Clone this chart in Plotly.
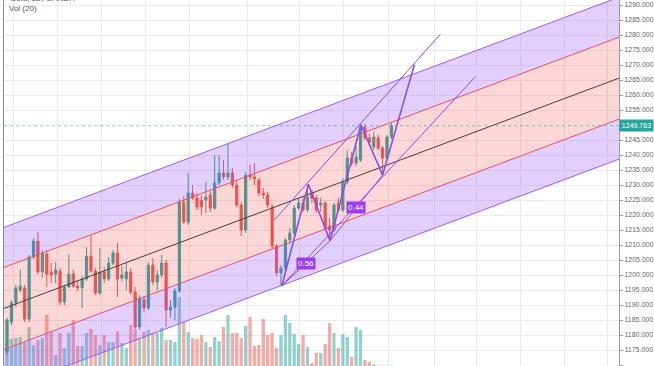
import plotly.graph_objects as go

# ---------------- data ----------------
opens = [1174.3, 1184.3, 1190.7, 1195.0, 1195.7, 1185.3, 1206.0, 1211.3, 1201.0, 1207.0,
         1201.0, 1200.3, 1201.3, 1191.0, 1196.0, 1200.3, 1196.3, 1195.7, 1198.7, 1206.3,
         1201.3, 1194.0, 1201.0, 1198.7, 1204.0, 1207.3, 1199.0, 1198.7, 1201.0, 1194.3,
         1182.7, 1191.7, 1189.0, 1203.3, 1197.7, 1200.0, 1204.0, 1188.3, 1189.3, 1194.7,
         1224.3, 1217.7, 1227.3, 1225.7, 1225.0, 1225.0, 1226.7, 1222.3, 1230.7, 1234.0,
         1232.7, 1234.0, 1230.0, 1223.3, 1215.0, 1233.3, 1232.7, 1231.7, 1227.3, 1226.7,
         1222.7, 1209.7, 1200.7, 1202.3, 1211.7, 1214.0, 1222.3, 1224.0, 1221.7, 1227.7,
         1225.7, 1223.3, 1224.0, 1216.3, 1215.0, 1224.0, 1221.7, 1231.0, 1239.0, 1237.3,
         1238.3, 1249.3, 1245.7, 1242.7, 1245.7, 1242.3, 1239.0, 1246.0]
highs = [1185.7, 1191.7, 1196.7, 1201.7, 1196.7, 1206.7, 1212.3, 1214.3, 1208.3, 1208.3,
         1204.0, 1204.3, 1202.3, 1196.7, 1207.0, 1201.7, 1198.3, 1199.7, 1209.3, 1213.3,
         1202.3, 1209.0, 1202.7, 1206.0, 1208.3, 1210.7, 1203.0, 1204.0, 1202.3, 1196.0,
         1193.3, 1193.0, 1204.3, 1205.7, 1201.7, 1206.7, 1205.0, 1191.7, 1195.7, 1225.3,
         1226.3, 1234.0, 1230.0, 1227.3, 1226.7, 1231.0, 1228.3, 1240.0, 1240.0, 1238.3,
         1244.0, 1235.7, 1231.7, 1224.3, 1234.3, 1236.7, 1237.3, 1232.3, 1229.0, 1227.7,
         1223.7, 1210.3, 1203.3, 1212.3, 1215.7, 1223.3, 1225.7, 1226.3, 1230.2, 1228.3,
         1226.7, 1225.7, 1224.7, 1219.0, 1224.0, 1225.7, 1232.3, 1241.7, 1241.0, 1243.0,
         1250.1, 1250.3, 1247.0, 1247.7, 1246.7, 1243.0, 1246.7, 1250.7]
lows = [1173.3, 1183.3, 1189.3, 1194.3, 1184.3, 1184.3, 1205.3, 1200.3, 1199.0, 1196.0,
        1197.3, 1197.3, 1190.0, 1190.0, 1195.7, 1195.7, 1194.7, 1189.0, 1198.0, 1200.7,
        1193.3, 1193.3, 1197.3, 1198.0, 1203.3, 1192.7, 1197.7, 1195.0, 1193.3, 1181.7,
        1181.7, 1187.7, 1188.3, 1196.7, 1195.0, 1199.0, 1182.7, 1185.7, 1185.0, 1194.0,
        1217.0, 1216.7, 1225.0, 1221.7, 1220.0, 1220.7, 1221.0, 1221.7, 1230.0, 1231.7,
        1231.7, 1229.0, 1222.7, 1213.0, 1214.0, 1231.7, 1230.0, 1226.3, 1225.3, 1222.3,
        1209.0, 1199.7, 1196.4, 1201.0, 1210.3, 1213.0, 1221.7, 1221.0, 1221.0, 1224.0,
        1220.7, 1221.0, 1215.0, 1211.4, 1214.3, 1221.0, 1221.0, 1230.3, 1236.3, 1236.3,
        1237.7, 1245.0, 1243.3, 1241.7, 1241.7, 1233.7, 1238.3, 1245.3]
closes = [1185.0, 1190.7, 1195.7, 1196.3, 1185.3, 1206.0, 1211.3, 1201.0, 1207.3, 1200.3,
          1200.0, 1201.7, 1191.0, 1196.0, 1200.3, 1196.3, 1195.7, 1198.7, 1206.3, 1201.3,
          1194.0, 1201.0, 1198.7, 1204.0, 1207.3, 1198.7, 1200.0, 1201.0, 1194.3, 1182.7,
          1192.3, 1189.0, 1203.3, 1197.7, 1200.0, 1204.0, 1188.3, 1189.3, 1194.7, 1224.3,
          1217.7, 1227.3, 1225.7, 1222.7, 1222.7, 1226.0, 1222.3, 1230.7, 1234.0, 1232.7,
          1234.0, 1230.0, 1223.3, 1215.0, 1233.3, 1232.7, 1232.0, 1227.3, 1226.7, 1223.3,
          1209.7, 1200.7, 1202.3, 1211.7, 1214.0, 1222.3, 1224.0, 1221.7, 1226.0, 1225.7,
          1221.7, 1224.0, 1215.7, 1215.0, 1223.3, 1221.7, 1231.0, 1239.0, 1237.3, 1239.3,
          1249.3, 1245.7, 1244.3, 1246.0, 1242.3, 1239.0, 1246.0, 1249.763]
volumes = [52, 54, 56, 58, 48, 78, 42, 52, 56, 102,
           68, 22, 66, 36, 66, 92, 40, 40, 66, 74,
           62, 42, 62, 48, 48, 70, 46, 36, 82, 72,
           56, 68, 72, 66, 66, 76, 52, 52, 48, 138,
           88, 68, 56, 54, 62, 48, 38, 58, 50, 78,
           102, 66, 66, 56, 80, 98, 40, 42, 94, 62,
           66, 36, 62, 102, 86, 64, 44, 62, 38, 6,
           26, 26, 44, 86, 66, 36, 64, 58, 18, 78,
           72, 12, 8, 3, 1, 1, 1, 1]
bars = list(range(len(closes)))

# regression channel (centre at first bar, slope per bar, deviations)
channel_start = 1189.25
channel_slope = 0.5514
inner_dev = 13.67
outer_dev = 27.0

# harmonic pattern X, A, B, C, D and projection
pattern_x = [62.2, 68.2, 73.1, 80.1, 85.0, 92.2]
pattern_y = [1196.4, 1230.2, 1211.4, 1250.1, 1233.3, 1270.2]
trend_upper_x = [60.5, 98.1]
trend_upper_y = [1218.3, 1280.3]
trend_lower_x = [62.2, 106.0]
trend_lower_y = [1196.4, 1266.1]
ratio_labels = ["0.56", "0.44"]

price_ticks = list(range(1170, 1295, 5))
header_lines = ["Gold, 1D, OANDA", "Vol (20)"]

# ---------------- styling ----------------
TEAL = "#26a69a"
RED = "#ef5350"
PURPLE_LINE = "#9b5cf2"
PURPLE_FILL = "rgba(150,80,235,0.27)"
RED_LINE = "#e8506a"
RED_FILL = "rgba(239,83,80,0.23)"
PATTERN = "#8a4cf0"
LABEL_BG = "#9b3cf2"
GRID = "#e8ecf0"
FONT = "Liberation Sans"

x_range = [-0.68, 138.5]
y_range = [1169.67, 1291.67]
vol_range = [0, 732]

fig = go.Figure()

# volume (bottom layer, own axis)
vol_colors = ["rgba(38,166,154,0.5)" if c >= o else "rgba(239,83,80,0.5)"
              for o, c in zip(opens, closes)]
fig.add_trace(go.Bar(x=bars, y=volumes, marker=dict(color=vol_colors, line=dict(width=0)),
                     yaxis="y", hoverinfo="skip"))

# regression channel
cx = x_range
centre = [channel_start + channel_slope * v for v in cx]
def offs(d):
    return [c + d for c in centre]

fig.add_trace(go.Scatter(x=cx, y=offs(-outer_dev), mode="lines", yaxis="y2",
                         line=dict(color=PURPLE_LINE, width=1), hoverinfo="skip"))
fig.add_trace(go.Scatter(x=cx, y=offs(-inner_dev), mode="lines", yaxis="y2",
                         line=dict(color=RED_LINE, width=1), fill="tonexty",
                         fillcolor=PURPLE_FILL, hoverinfo="skip"))
fig.add_trace(go.Scatter(x=cx, y=offs(inner_dev), mode="lines", yaxis="y2",
                         line=dict(color=RED_LINE, width=1), fill="tonexty",
                         fillcolor=RED_FILL, hoverinfo="skip"))
fig.add_trace(go.Scatter(x=cx, y=offs(outer_dev), mode="lines", yaxis="y2",
                         line=dict(color=PURPLE_LINE, width=1), fill="tonexty",
                         fillcolor=PURPLE_FILL, hoverinfo="skip"))
fig.add_trace(go.Scatter(x=cx, y=centre, mode="lines", yaxis="y2",
                         line=dict(color="#4a3c3c", width=1), hoverinfo="skip"))

# candles
fig.add_trace(go.Candlestick(
    x=bars, open=opens, high=highs, low=lows, close=closes, yaxis="y2",
    whiskerwidth=0,
    increasing=dict(line=dict(color=TEAL, width=1), fillcolor=TEAL),
    decreasing=dict(line=dict(color=RED, width=1), fillcolor=RED),
    hoverinfo="skip"))

# pattern drawing
fig.add_trace(go.Scatter(x=trend_upper_x, y=trend_upper_y, mode="lines", yaxis="y2",
                         line=dict(color=PATTERN, width=1), hoverinfo="skip"))
fig.add_trace(go.Scatter(x=trend_lower_x, y=trend_lower_y, mode="lines", yaxis="y2",
                         line=dict(color=PATTERN, width=1), hoverinfo="skip"))
fig.add_trace(go.Scatter(x=[pattern_x[0], pattern_x[2], pattern_x[4]],
                         y=[pattern_y[0], pattern_y[2], pattern_y[4]],
                         mode="lines", yaxis="y2",
                         line=dict(color=PATTERN, width=1), hoverinfo="skip"))
fig.add_trace(go.Scatter(x=pattern_x, y=pattern_y, mode="lines", yaxis="y2",
                         line=dict(color=PATTERN, width=1.6), hoverinfo="skip"))

annotations = []
for (i0, i1), txt in zip([(0, 2), (2, 4)], ratio_labels):
    annotations.append(dict(
        x=(pattern_x[i0] + pattern_x[i1]) / 2, y=(pattern_y[i0] + pattern_y[i1]) / 2,
        xref="x", yref="y2", text=txt, showarrow=False,
        font=dict(family=FONT, size=8, color="white"),
        bgcolor=LABEL_BG, borderpad=1))

# last price label on the axis
last_price = closes[-1]
annotations.append(dict(
    x=1, y=last_price, xref="paper", yref="y2", xanchor="left", yanchor="middle",
    text=f"{last_price:.3f}", showarrow=False, xshift=0,
    font=dict(family=FONT, size=7, color="white"),
    bgcolor=TEAL, borderpad=2, width=29))

# header texts (top-left)
annotations.append(dict(x=0, y=1, xref="paper", yref="paper", xanchor="left",
                        yanchor="middle", xshift=4, yshift=2, text=header_lines[0],
                        showarrow=False, font=dict(family=FONT, size=8, color="#555")))
annotations.append(dict(x=0, y=1, xref="paper", yref="paper", xanchor="left",
                        yanchor="middle", xshift=3, yshift=-8, text=header_lines[1],
                        showarrow=False, font=dict(family=FONT, size=8, color="#555")))

# the axis label of the last price hides the tick that sits under it
shown_ticks = [t for t in price_ticks if abs(t - last_price) > 2]

grid_x = [1.4, 11.5, 21.4, 31.4, 41.3, 54.4, 66.1, 76.2, 86.4, 96.8, 106.2, 116.2, 126.1, 136.0]

fig.update_layout(
    width=654, height=366,
    margin=dict(l=4, r=33, t=0, b=0),
    paper_bgcolor="white", plot_bgcolor="white",
    showlegend=False, hovermode=False, bargap=0.25,
    font=dict(family=FONT),
    xaxis=dict(range=x_range, showticklabels=False, tickvals=grid_x, showgrid=True,
               gridcolor=GRID, gridwidth=1, zeroline=False, showline=False,
               rangeslider=dict(visible=False), ticks=""),
    yaxis=dict(range=vol_range, showticklabels=False, showgrid=False, zeroline=False,
               showline=True, linecolor="#8a8a8a", linewidth=1, ticks=""),
    yaxis2=dict(range=y_range, overlaying="y", side="right", tickvals=shown_ticks,
                tickformat=".3f", showgrid=True, gridcolor=GRID, gridwidth=1,
                zeroline=False, showline=True, linecolor="#9a9a9a", linewidth=1,
                ticks="outside", ticklen=3, tickcolor="#9a9a9a",
                tickfont=dict(family=FONT, size=7, color="#666")),
    annotations=annotations,
    shapes=[dict(type="line", xref="paper", x0=0, x1=1, yref="y2",
                 y0=last_price, y1=last_price,
                 line=dict(color="rgba(38,166,154,0.6)", width=1, dash="dot"))],
)

fig.write_html(
    "out.html",
    config={"displayModeBar": False},
    post_script="document.body.style.margin='0';document.body.style.overflow='hidden';",
)
